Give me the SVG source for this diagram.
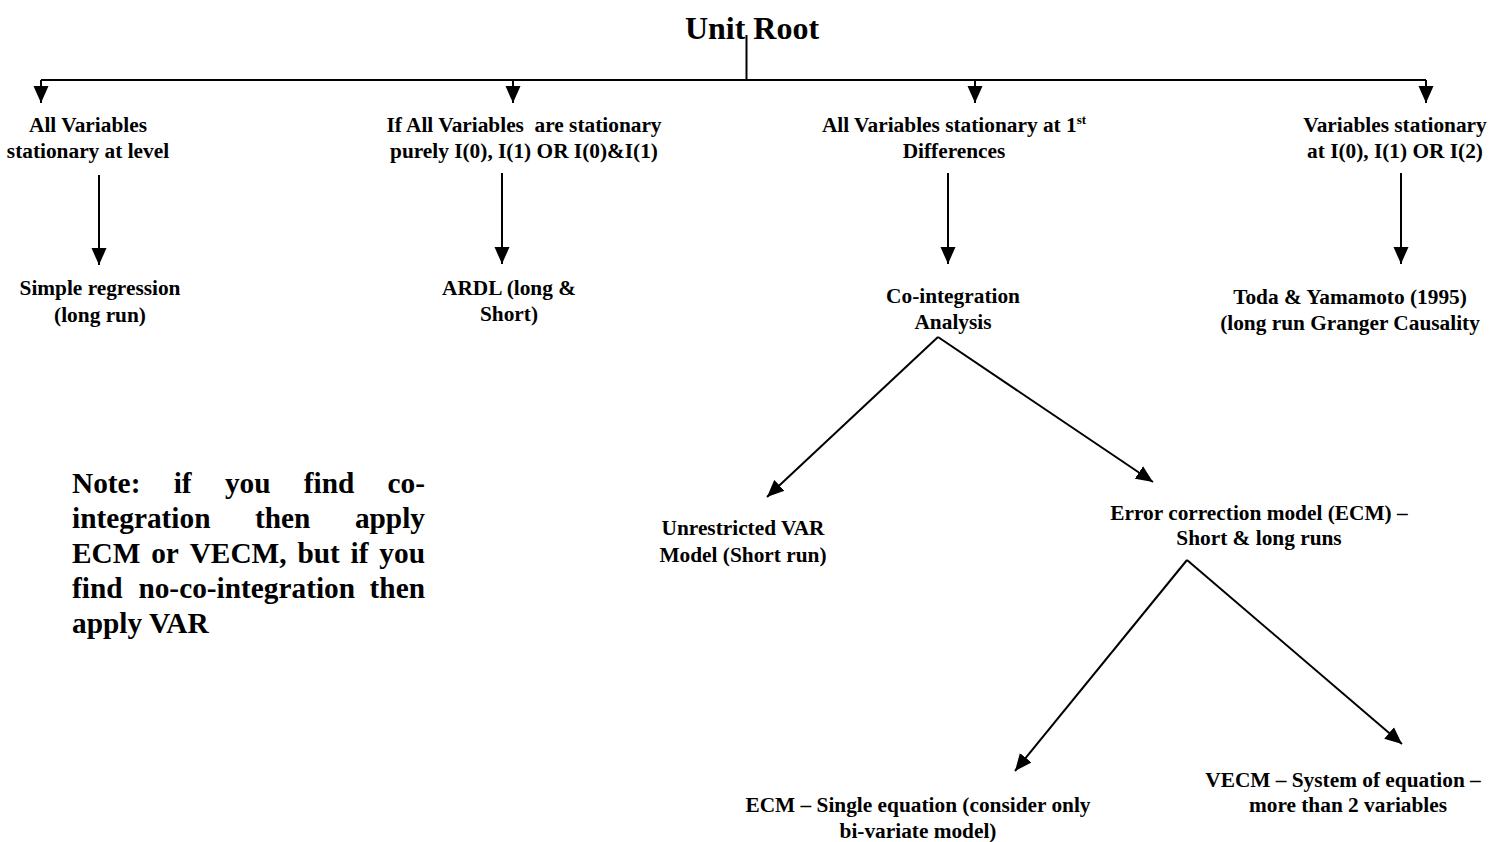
<svg xmlns="http://www.w3.org/2000/svg" width="1503" height="842" viewBox="0 0 1503 842">
<style>
text{font-family:"Liberation Serif","Times New Roman",serif;font-weight:bold;fill:#000}
.t{font-size:21.33px;text-anchor:middle}
.title{font-size:32px;text-anchor:middle}
.note{font-size:29.33px}
.ln{stroke:#000;stroke-width:2;fill:none}
</style>
<defs>
<marker id="ah" markerUnits="userSpaceOnUse" markerWidth="17" markerHeight="16" viewBox="0 0 17 16" refX="17" refY="8" orient="auto">
<path d="M0,0.5 L17,8 L0,15.5 Z" fill="#000"/>
</marker>
</defs>
<rect width="1503" height="842" fill="#fff"/>
<g id="connectors">
<line class="ln" x1="746.5" y1="35" x2="746.5" y2="80"/>
<line class="ln" x1="41" y1="80" x2="1426" y2="80"/>
<line class="ln" x1="41" y1="80" x2="41" y2="103" marker-end="url(#ah)"/>
<line class="ln" x1="513" y1="80" x2="513" y2="103" marker-end="url(#ah)"/>
<line class="ln" x1="975" y1="80" x2="975" y2="103" marker-end="url(#ah)"/>
<line class="ln" x1="1426" y1="80" x2="1426" y2="103" marker-end="url(#ah)"/>
<line class="ln" x1="99" y1="175" x2="99" y2="265" marker-end="url(#ah)"/>
<line class="ln" x1="502" y1="173" x2="502" y2="264" marker-end="url(#ah)"/>
<line class="ln" x1="948" y1="173" x2="948" y2="264" marker-end="url(#ah)"/>
<line class="ln" x1="1401" y1="173" x2="1401" y2="264" marker-end="url(#ah)"/>
<line class="ln" x1="938" y1="337" x2="767" y2="497" marker-end="url(#ah)"/>
<line class="ln" x1="938" y1="337" x2="1153" y2="482" marker-end="url(#ah)"/>
<line class="ln" x1="1187" y1="560" x2="1015" y2="771" marker-end="url(#ah)"/>
<line class="ln" x1="1187" y1="560" x2="1402" y2="744" marker-end="url(#ah)"/>
</g>
<g id="unit-root"><text class="title" x="752" y="39">Unit Root</text></g>
<g id="level">
<text class="t" x="88" y="132">All Variables</text>
<text class="t" x="88" y="158">stationary at level</text>
</g>
<g id="mixed">
<text class="t" x="524" y="132" xml:space="preserve">If All Variables  are stationary</text>
<text class="t" x="524" y="158">purely I(0), I(1) OR I(0)&amp;I(1)</text>
</g>
<g id="first-diff">
<text class="t" x="954" y="132">All Variables stationary at 1<tspan font-size="13" dy="-8">st</tspan></text>
<text class="t" x="954" y="158">Differences</text>
</g>
<g id="any-order">
<text class="t" x="1395" y="132">Variables stationary</text>
<text class="t" x="1395" y="158">at I(0), I(1) OR I(2)</text>
</g>
<g id="simple-regression">
<text class="t" x="100" y="295">Simple regression</text>
<text class="t" x="100" y="322">(long run)</text>
</g>
<g id="ardl">
<text class="t" x="509" y="295">ARDL (long &amp;</text>
<text class="t" x="509" y="321">Short)</text>
</g>
<g id="cointegration">
<text class="t" x="953" y="303">Co-integration</text>
<text class="t" x="953" y="329">Analysis</text>
</g>
<g id="toda-yamamoto">
<text class="t" x="1350" y="304">Toda &amp; Yamamoto (1995)</text>
<text class="t" x="1350" y="330">(long run Granger Causality</text>
</g>
<g id="var">
<text class="t" x="743" y="535">Unrestricted VAR</text>
<text class="t" x="743" y="562">Model (Short run)</text>
</g>
<g id="ecm">
<text class="t" x="1259" y="520">Error correction model (ECM) –</text>
<text class="t" x="1259" y="545">Short &amp; long runs</text>
</g>
<g id="ecm-single">
<text class="t" x="918" y="812">ECM – Single equation (consider only</text>
<text class="t" x="918" y="838">bi-variate model)</text>
</g>
<g id="vecm">
<text class="t" x="1343" y="787">VECM – System of equation –</text>
<text class="t" x="1348" y="812">more than 2 variables</text>
</g>
<g id="note">
<text class="note" y="493"><tspan x="72">Note:</tspan><tspan x="173.7">if</tspan><tspan x="224.9">you</tspan><tspan x="303.8">find</tspan><tspan x="425" text-anchor="end">co-</tspan></text>
<text class="note" y="528"><tspan x="72">integration</tspan><tspan x="255">then</tspan><tspan x="425" text-anchor="end">apply</tspan></text>
<text class="note" y="563"><tspan x="72">ECM</tspan><tspan x="151.2">or</tspan><tspan x="189.7">VECM,</tspan><tspan x="297.4">but</tspan><tspan x="350.6">if</tspan><tspan x="425" text-anchor="end">you</tspan></text>
<text class="note" y="598"><tspan x="72">find</tspan><tspan x="138.4">no-co-integration</tspan><tspan x="425" text-anchor="end">then</tspan></text>
<text class="note" y="633"><tspan x="72">apply VAR</tspan></text>
</g>
</svg>
